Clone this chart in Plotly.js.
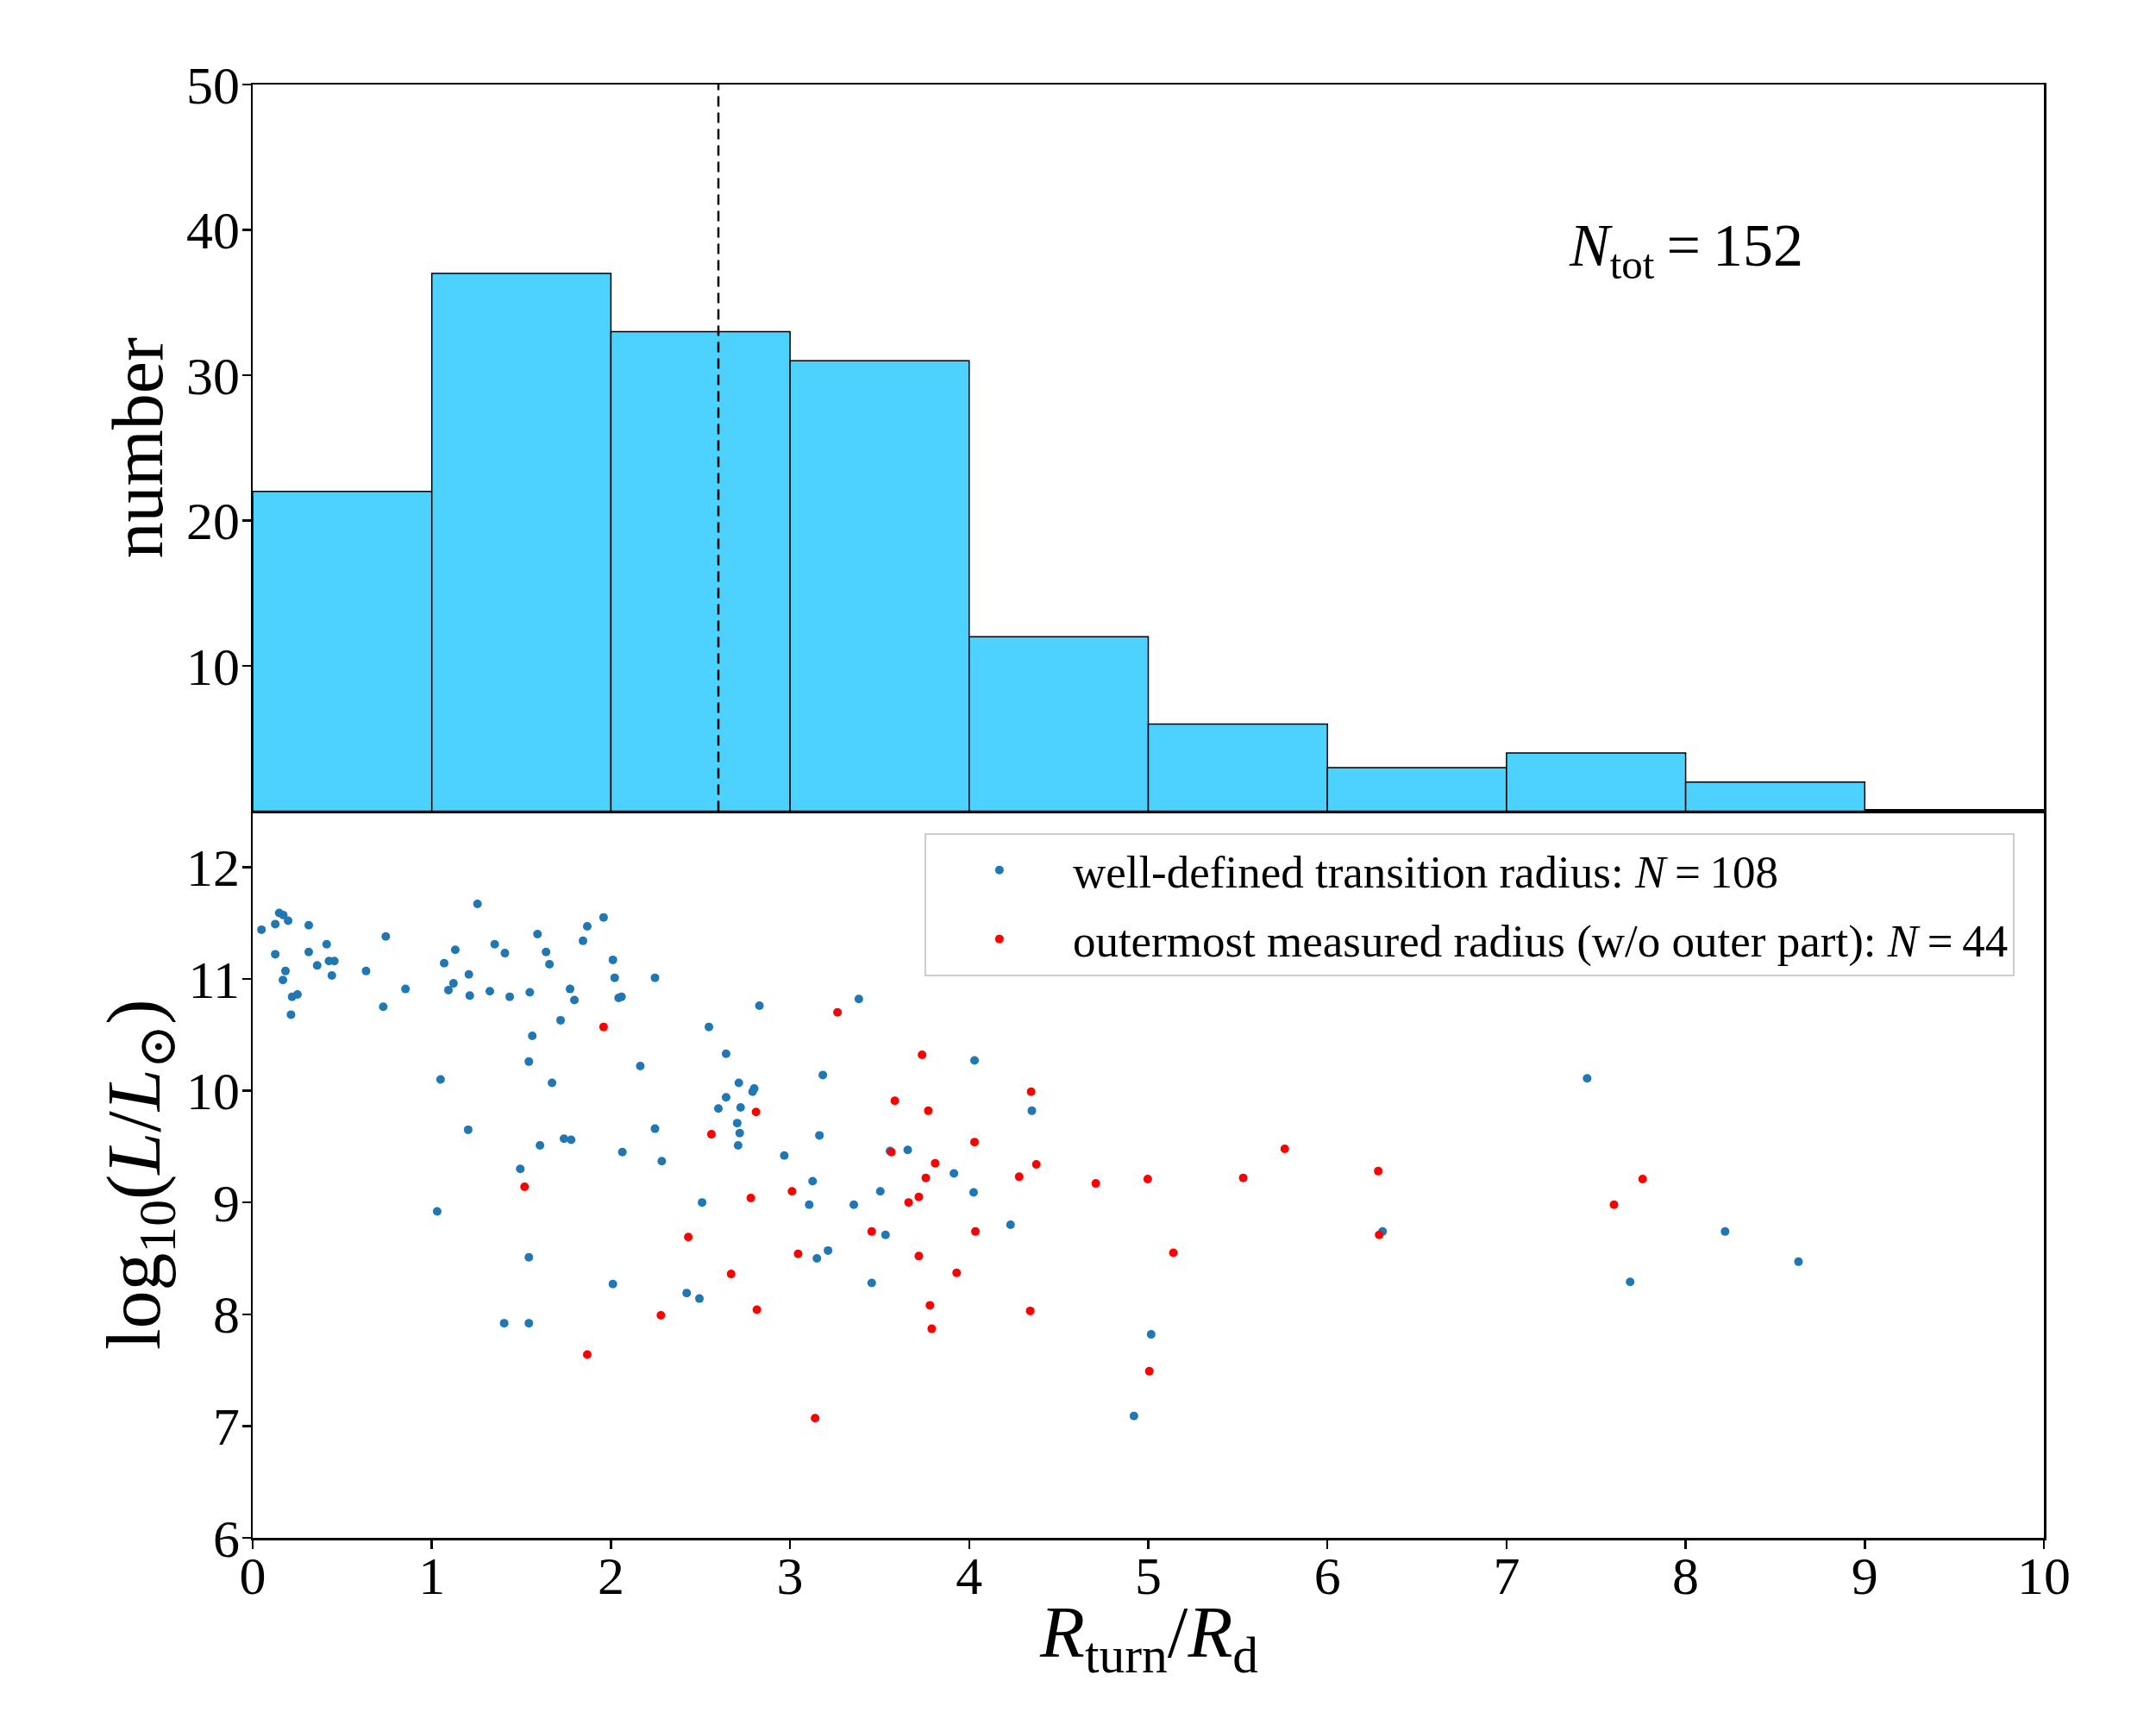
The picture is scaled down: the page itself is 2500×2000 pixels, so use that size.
<!DOCTYPE html>
<html>
<head>
<meta charset="utf-8">
<script src="https://cdn.plot.ly/plotly-3.0.1.min.js"></script>
<style>
  body { margin: 0; background: #fff; }
  #myDiv { width: 2500px; height: 2000px; }
</style>
</head>
<body>
<div id="myDiv"></div>
<script>
// histogram of R_turn / R_d (bin width 1)
var binStarts = [0, 1, 2, 3, 4, 5, 6, 7, 8];
var binCounts = [22, 37, 33, 31, 12, 6, 3, 4, 2];
var medianRatio = 2.6;
var nTotal = 152;
var nBlue = 108;
var nRed = 44;

// well-defined transition radius
var blueX = [0.049, 0.148, 0.171, 0.126, 0.198, 0.313, 0.126, 0.313, 0.413, 0.183,
  0.360, 0.426, 0.456, 0.442, 0.169, 0.220, 0.250, 0.214, 0.633, 0.743,
  0.729, 0.853, 1.049, 1.069, 1.131, 1.121, 1.093, 1.207, 1.212, 1.255,
  1.324, 1.351, 1.408, 1.435, 1.547, 1.561, 1.542, 1.590, 1.638, 1.657,
  1.671, 1.719, 1.772, 1.796, 1.844, 1.868, 1.959, 2.011, 2.021, 2.043,
  2.059, 2.164, 2.246,
  1.203, 1.604, 1.738, 1.778, 2.064, 2.246, 2.284, 1.494, 1.030, 1.542,
  2.011, 1.404, 1.542,
  2.829, 2.547, 3.384, 2.643, 3.183, 4.030, 2.714, 2.800, 2.791, 2.643,
  2.600, 2.724, 4.350,
  2.705, 2.719, 2.710, 3.164, 2.968, 3.558, 3.657, 3.915, 3.126, 3.504,
  4.025, 2.509, 3.107, 3.356, 4.231, 3.533, 3.212, 3.150, 3.456, 2.423,
  2.494,
  6.308, 5.016, 4.920, 7.45, 7.69, 8.22, 8.63];
var blueY = [11.44, 11.59, 11.57, 11.49, 11.52, 11.48, 11.22, 11.24, 11.31, 11.07,
  11.12, 11.16, 11.16, 11.03, 10.99, 10.84, 10.86, 10.68, 11.07, 11.38,
  10.75, 10.91, 10.10, 11.14, 11.26, 10.96, 10.90, 11.04, 10.85, 11.67,
  10.89, 11.31, 11.23, 10.84, 10.88, 10.49, 10.26, 11.40, 11.24, 11.13,
  10.07, 10.63, 10.91, 10.81, 11.34, 11.47, 11.55, 11.17, 11.01, 10.83,
  10.84, 10.22, 11.01,
  9.65, 9.51, 9.57, 9.56, 9.45, 9.66, 9.37, 9.30, 8.92, 8.51,
  8.27, 7.92, 7.92,
  10.76, 10.57, 10.82, 10.33, 10.14, 10.27, 10.07, 10.02, 9.99, 9.94,
  9.84, 9.85, 9.82,
  9.71, 9.62, 9.51, 9.60, 9.42, 9.46, 9.47, 9.26, 9.19, 9.10,
  9.09, 9.00, 8.98, 8.98, 8.80, 8.71, 8.57, 8.50, 8.28, 8.19,
  8.14,
  8.74, 7.82, 7.09, 10.11, 8.29, 8.74, 8.47];

// outermost measured radius (no outer part)
var redX = [1.959, 1.518, 1.868, 2.279, 3.265, 3.737, 2.810, 3.585, 3.772, 4.346,
  2.561, 3.566, 4.030, 3.810, 3.758, 4.375, 4.279, 3.011, 3.719, 3.662,
  2.781, 4.035, 3.456, 2.432, 3.045, 3.719, 3.930, 2.671, 2.815, 3.781,
  4.341, 3.791, 3.140, 4.707, 4.997, 5.530, 5.762, 6.284, 6.289, 5.140,
  5.006, 7.60, 7.76];
var redY = [10.57, 9.14, 7.64, 7.99, 10.70, 10.32, 9.81, 9.91, 9.82, 9.99,
  9.61, 9.45, 9.54, 9.35, 9.22, 9.34, 9.23, 9.10, 9.05, 9.00,
  9.04, 8.74, 8.74, 8.69, 8.54, 8.52, 8.37, 8.36, 8.04, 8.08,
  8.03, 7.87, 7.07, 9.17, 9.21, 9.22, 9.48, 9.28, 8.71, 8.55,
  7.49, 8.98, 9.21];

var serif = 'Liberation Serif, DejaVu Serif, serif';
var eq = '\u2009=\u2009';

var histTrace = {
  type: 'bar',
  x: binStarts,
  y: binCounts,
  width: 1,
  offset: 0,
  xaxis: 'x2',
  yaxis: 'y2',
  marker: { color: '#4dd2ff', line: { color: '#000', width: 1.5 } },
  showlegend: false,
  hoverinfo: 'skip'
};

var medianLine = {
  type: 'scatter',
  mode: 'lines',
  x: [medianRatio, medianRatio],
  y: [0, 50],
  xaxis: 'x2',
  yaxis: 'y2',
  line: { color: '#000', width: 2.5, dash: '12px,7px' },
  showlegend: false,
  hoverinfo: 'skip'
};

var blueTrace = {
  type: 'scatter',
  mode: 'markers',
  x: blueX,
  y: blueY,
  xaxis: 'x',
  yaxis: 'y',
  legendgroup: 'a',
  name: 'well-defined transition radius: <i>N</i>' + eq + nBlue,
  marker: { color: '#1f77b4', size: 10 }
};

var redTrace = {
  type: 'scatter',
  mode: 'markers',
  x: redX,
  y: redY,
  xaxis: 'x',
  yaxis: 'y',
  legendgroup: 'b',
  name: 'outermost measured radius (w/o outer part): <i>N</i>' + eq + nRed,
  marker: { color: '#ff0000', size: 10 }
};

var axisCommon = {
  showline: true,
  linecolor: '#000',
  linewidth: 2.5,
  mirror: true,
  showgrid: false,
  zeroline: false,
  ticks: 'outside',
  ticklen: 10,
  tickwidth: 2.5,
  tickcolor: '#000',
  tickfont: { family: serif, size: 62, color: '#000' }
};

var layout = {
  width: 2500,
  height: 2000,
  margin: { l: 293, r: 130, t: 98, b: 217 },
  paper_bgcolor: '#fff',
  plot_bgcolor: '#fff',
  font: { family: serif, color: '#000' },
  xaxis: Object.assign({}, axisCommon, {
    range: [0, 10],
    tickvals: [0, 1, 2, 3, 4, 5, 6, 7, 8, 9, 10],
    anchor: 'y',
    ticklabelstandoff: -22
  }),
  yaxis: Object.assign({}, axisCommon, {
    domain: [0, 0.5],
    range: [6, 12.5],
    tickvals: [6, 7, 8, 9, 10, 11, 12],
    anchor: 'x',
    ticklabelstandoff: -10,
    title: { text: 'log<sub>10</sub>(<i>L</i>/<i>L</i><sub>⊙</sub>)',
             font: { family: serif, size: 88 }, standoff: 0 }
  }),
  xaxis2: Object.assign({}, axisCommon, {
    range: [0, 10],
    matches: 'x',
    anchor: 'y2',
    showticklabels: false,
    ticks: ''
  }),
  yaxis2: Object.assign({}, axisCommon, {
    domain: [0.5, 1],
    range: [0, 50],
    tickvals: [10, 20, 30, 40, 50],
    anchor: 'x2',
    ticklabelstandoff: -10,
    title: { text: 'number', font: { family: serif, size: 84 }, standoff: 0 }
  }),
  legend: {
    x: 0.375, y: 0.485,
    xanchor: 'left', yanchor: 'top',
    bgcolor: 'rgba(255,255,255,0.8)',
    bordercolor: '#cccccc',
    borderwidth: 2,
    itemwidth: 160,
    traceorder: 'grouped',
    tracegroupgap: 8,
    font: { family: serif, size: 53, color: '#000' }
  },
  annotations: [{
    xref: 'x2', yref: 'y2',
    x: 8.0, y: 38.6,
    text: '<i>N</i><sub>tot</sub>' + eq + nTotal,
    showarrow: false,
    font: { family: serif, size: 70, color: '#000' }
  }, {
    // x axis title, placed closer to the tick labels than axis titles allow
    xref: 'paper', yref: 'paper',
    x: 0.5, y: 0,
    yanchor: 'middle',
    yshift: -115,
    text: '<i>R</i><sub>turn</sub>/<i>R</i><sub>d</sub>',
    showarrow: false,
    font: { family: serif, size: 85, color: '#000' }
  }]
};

Plotly.newPlot('myDiv', [histTrace, medianLine, blueTrace, redTrace], layout, { staticPlot: true });
</script>
</body>
</html>
